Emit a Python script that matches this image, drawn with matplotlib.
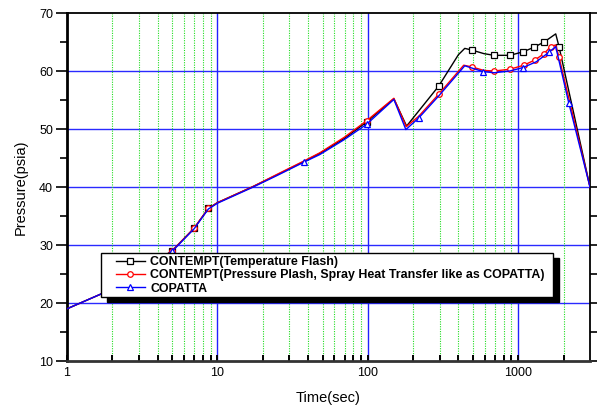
import numpy as np
import matplotlib
matplotlib.use("Agg")
import matplotlib.pyplot as plt
from matplotlib.patches import Rectangle
from matplotlib.ticker import LogLocator, FixedLocator, NullFormatter

plt.rcParams['font.family'] = ['Liberation Sans', 'DejaVu Sans']

# CONTEMPT (Temperature Flash)
t_black = [1, 1.7, 3, 5, 7, 8.7, 10, 17, 25, 37.7, 48, 70, 98, 149, 181,
           296, 400, 441, 493, 590, 690, 879, 1077, 1274, 1486, 1775, 1867, 3000]
p_black = [19.0, 21.6, 25.2, 29.0, 32.9, 36.3, 37.3, 40.0, 42.1, 44.4, 45.8, 48.4, 51.2, 55.2, 50.5,
           57.4, 62.8, 63.9, 63.6, 63.0, 62.7, 62.7, 63.3, 64.1, 65.0, 66.4, 64.2, 40.0]
mk_black = [3, 4, 5, 12, 15, 18, 20, 21, 22, 23, 24, 26]

# CONTEMPT (Pressure Plash, spray heat transfer like COPATTA)
t_red = [1, 1.7, 3, 5, 7, 8.7, 10, 17, 25, 37.7, 48, 70, 98, 149, 180, 218,
         296, 434, 493, 590, 690, 879, 1090, 1290, 1486, 1640, 1775, 1867, 3000]
p_red = [19.0, 21.6, 25.2, 29.0, 32.9, 36.3, 37.3, 40.0, 42.2, 44.5, 45.9, 48.6, 51.4, 55.3, 50.4, 52.2,
         56.0, 61.0, 60.7, 60.1, 60.0, 60.3, 61.0, 61.9, 63.0, 64.2, 64.5, 62.4, 40.0]
mk_red = [3, 4, 5, 12, 16, 18, 20, 21, 22, 23, 24, 25, 27]

# COPATTA
t_blue = [1, 1.7, 3, 5, 7, 8.7, 10, 17, 25, 37.7, 48, 70, 98, 149, 179, 218,
          296, 441, 493, 584, 690, 879, 1077, 1320, 1595, 1775, 2167, 3000]
p_blue = [19.0, 21.6, 25.2, 28.9, 32.8, 36.2, 37.2, 39.9, 42.0, 44.3, 45.6, 48.2, 50.8, 55.1, 49.9, 51.9,
          55.7, 60.9, 60.5, 59.9, 59.7, 60.0, 60.6, 61.6, 63.2, 64.2, 54.5, 40.0]
mk_blue = [3, 9, 12, 15, 19, 22, 24, 26]

labels = ["CONTEMPT(Temperature Flash)",
          "CONTEMPT(Pressure Plash, Spray Heat Transfer like as COPATTA)",
          "COPATTA"]

fig = plt.figure(figsize=(5.97, 4.08), dpi=100)
ax = fig.add_axes([67 / 597, 1 - 361 / 408, 523 / 597, 348 / 408])

ax.set_xscale('log')
ax.set_xlim(1, 3000)
ax.set_ylim(10, 70)

# grid: blue majors, green dotted minors on x
for v in [20, 30, 40, 50, 60]:
    ax.axhline(v, color='#2a2aff', lw=1.0, zorder=1)
for v in [10, 100, 1000]:
    ax.axvline(v, color='#2020ff', lw=1.0, zorder=1)
minors = [m * 10 ** d for d in range(0, 4) for m in range(2, 10) if m * 10 ** d < 3000]
for v in minors:
    ax.axvline(v, color='#22dd22', lw=0.8, ls=(0, (1, 1.2)), zorder=1)

ms = 4
ax.plot(t_black, p_black, color='black', lw=1.0, marker='s', ms=ms, mfc='white', mec='black',
        mew=0.9, markevery=mk_black, label=labels[0], zorder=3)
ax.plot(t_red, p_red, color='red', lw=1.0, marker='o', ms=ms, mfc='white', mec='red',
        mew=0.9, markevery=mk_red, label=labels[1], zorder=4)
ax.plot(t_blue, p_blue, color='blue', lw=1.0, marker='^', ms=ms, mfc='white', mec='blue',
        mew=0.9, markevery=mk_blue, label=labels[2], zorder=4)

ax.xaxis.set_major_locator(FixedLocator([1, 10, 100, 1000]))
ax.set_xticklabels(['1', '10', '100', '1000'])
ax.xaxis.set_minor_locator(FixedLocator(minors))
ax.xaxis.set_minor_formatter(NullFormatter())
ax.tick_params(axis='x', which='both', direction='in', length=4, width=1.4, pad=4,
               labelsize=9, top=False)
ax.set_yticks([10, 20, 30, 40, 50, 60, 70])
ax.set_yticks([15, 25, 35, 45, 55, 65], minor=True)
ax.tick_params(axis='y', which='major', direction='out', length=8, width=1.2, labelsize=9,
               right=True, pad=2)
ax.tick_params(axis='y', which='minor', direction='out', length=5, width=1.2, right=True)

ax.spines['left'].set_linewidth(2.0)
ax.spines['bottom'].set_linewidth(2.0)
ax.spines['bottom'].set_color('#333333')
ax.spines['top'].set_linewidth(1.3)
ax.spines['right'].set_linewidth(1.3)

ax.set_xlabel('Time(sec)', fontsize=10.5, labelpad=9)
ax.set_ylabel('Pressure(psia)', fontsize=10.5, labelpad=8)

leg = ax.legend(loc='upper left', bbox_to_anchor=((115 - 67) / 523, (361 - 255) / 348),
                frameon=False, borderpad=0.1, borderaxespad=0, handlelength=2.3,
                handletextpad=0.45, labelspacing=0.1, prop={'weight': 'bold', 'size': 8.9})
leg.set_zorder(6)

fig.canvas.draw()
bb = leg.get_window_extent()
x0, y0, x1, y1 = bb.x0 - 14, bb.y0 - 1, bb.x1 + 7, bb.y1 + 2
inv = fig.transFigure.inverted()
(fx0, fy0), (fx1, fy1) = inv.transform([(x0, y0), (x1, y1)])
(sx0, sy0), (sx1, sy1) = inv.transform([(x0 + 6, y0 - 5), (x1 + 6, y1 - 5)])
ax.add_patch(Rectangle((sx0, sy0), sx1 - sx0, sy1 - sy0, transform=fig.transFigure,
                       facecolor='black', edgecolor='black', clip_on=False, zorder=5))
ax.add_patch(Rectangle((fx0, fy0), fx1 - fx0, fy1 - fy0, transform=fig.transFigure,
                       facecolor='white', edgecolor='black', lw=1.0, clip_on=False, zorder=5.5))

fig.savefig('out.png', dpi=100)
